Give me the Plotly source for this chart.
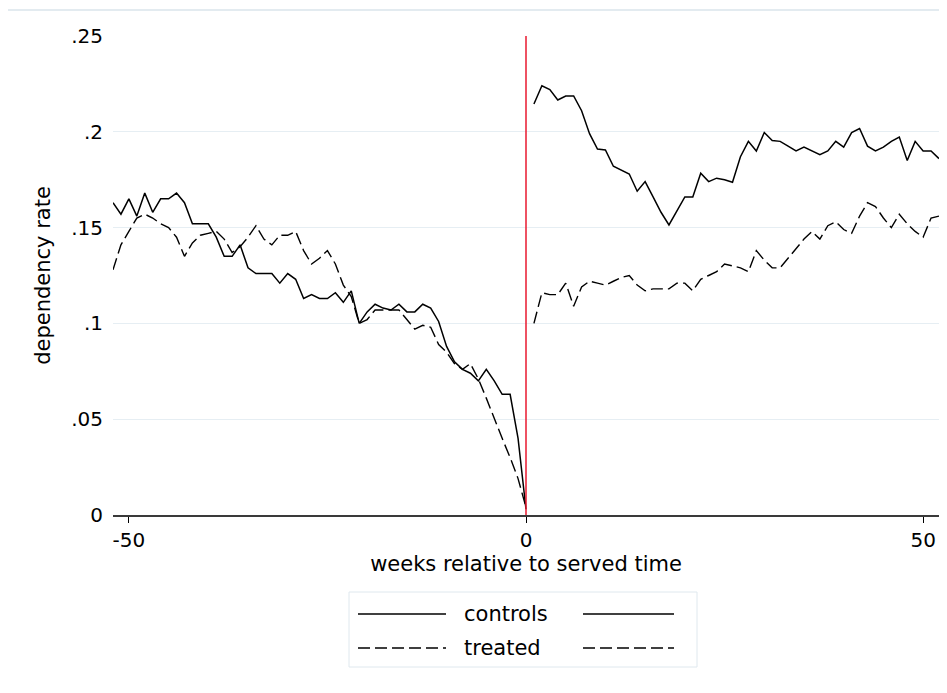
import plotly.graph_objects as go

# ---------------- data ----------------
weeks_pre = list(range(-52, 1))
weeks_post = list(range(1, 53))

controls_pre = [0.163, 0.157, 0.165, 0.156, 0.168, 0.158, 0.165, 0.165, 0.168, 0.163,
                0.152, 0.152, 0.152, 0.145, 0.135, 0.135, 0.141, 0.129, 0.126, 0.126,
                0.126, 0.121, 0.126, 0.123, 0.113, 0.115, 0.113, 0.113, 0.116, 0.111,
                0.117, 0.100, 0.106, 0.110, 0.108, 0.107, 0.110, 0.106, 0.106, 0.110,
                0.108, 0.101, 0.088, 0.080, 0.076, 0.074, 0.070, 0.076, 0.070, 0.063,
                0.063, 0.040, 0.003]
treated_pre = [0.128, 0.141, 0.148, 0.155, 0.157, 0.155, 0.152, 0.150, 0.145, 0.135,
               0.142, 0.146, 0.147, 0.148, 0.144, 0.137, 0.140, 0.145, 0.151, 0.144,
               0.141, 0.146, 0.146, 0.148, 0.138, 0.131, 0.134, 0.138, 0.131, 0.120,
               0.114, 0.100, 0.102, 0.107, 0.107, 0.107, 0.107, 0.102, 0.097, 0.099,
               0.098, 0.089, 0.085, 0.079, 0.076, 0.079, 0.071, 0.061, 0.050, 0.040,
               0.030, 0.019, 0.004]
controls_post = [0.2145, 0.224, 0.222, 0.2166, 0.2187, 0.2187, 0.211, 0.199, 0.191, 0.1905,
                 0.182, 0.180, 0.178, 0.169, 0.174, 0.166, 0.158, 0.1514, 0.159, 0.166,
                 0.166, 0.1784, 0.174, 0.1758, 0.175, 0.1737, 0.187, 0.195, 0.190, 0.1996,
                 0.1955, 0.195, 0.1925, 0.190, 0.192, 0.190, 0.188, 0.190, 0.195, 0.192,
                 0.1996, 0.2017, 0.1925, 0.190, 0.192, 0.195, 0.1973, 0.185, 0.195, 0.190,
                 0.190, 0.186]
treated_post = [0.100, 0.116, 0.115, 0.115, 0.121, 0.109, 0.119, 0.122, 0.121, 0.120,
                0.122, 0.124, 0.125, 0.120, 0.117, 0.118, 0.118, 0.118, 0.121, 0.121,
                0.117, 0.123, 0.125, 0.127, 0.131, 0.130, 0.129, 0.127, 0.138, 0.133,
                0.129, 0.129, 0.134, 0.139, 0.144, 0.148, 0.144, 0.151, 0.153, 0.149,
                0.147, 0.156, 0.163, 0.161, 0.155, 0.150, 0.157, 0.152, 0.148, 0.145,
                0.155, 0.156]

x_ticks = [-50, 0, 50]
y_ticks = [0, 0.05, 0.1, 0.15, 0.2, 0.25]
y_ticklabels = ["0", ".05", ".1", ".15", ".2", ".25"]
legend_labels = ["controls", "treated"]

# ---------------- figure ----------------
FONT = "DejaVu Sans"
OFF = 8  # page body margin
W, H = 931, 677
ML, MR, MT, MB = 105, 0, 28, 170
PW, PH = W - ML - MR, H - MT - MB

solid = dict(color="black", width=1.5)
dashed = dict(color="black", width=1.4, dash="12px,5px")

fig = go.Figure()
fig.add_trace(go.Scatter(x=weeks_pre, y=controls_pre, mode="lines", line=solid, showlegend=False))
fig.add_trace(go.Scatter(x=weeks_pre, y=treated_pre, mode="lines", line=dashed, showlegend=False))
fig.add_trace(go.Scatter(x=weeks_post, y=controls_post, mode="lines", line=solid, showlegend=False))
fig.add_trace(go.Scatter(x=weeks_post, y=treated_post, mode="lines", line=dashed, showlegend=False))

# vertical red line at week 0
fig.add_shape(type="line", xref="x", yref="y", x0=0, x1=0, y0=0, y1=0.25,
              line=dict(color="#e8192f", width=1.5), layer="above")


def px_x(p):
    return (p - OFF - ML) / PW


def px_y(p):
    return (H - MB - (p - OFF)) / PH


# faint top rule
fig.add_shape(type="line", xref="paper", yref="paper", x0=px_x(8), x1=px_x(939),
              y0=px_y(10), y1=px_y(10), line=dict(color="#e3ebf0", width=2))

# manual Stata-style legend
fig.add_shape(type="rect", xref="paper", yref="paper",
              x0=px_x(349), x1=px_x(697), y0=px_y(592), y1=px_y(667),
              line=dict(color="#dfe8ee", width=1), fillcolor="white")
rows = [614, 648]
styles = [solid, dashed]
for lab, ry, st in zip(legend_labels, rows, styles):
    for kx0, kx1 in [(358, 446), (583, 674)]:
        fig.add_shape(type="line", xref="paper", yref="paper",
                      x0=px_x(kx0), x1=px_x(kx1), y0=px_y(ry), y1=px_y(ry),
                      line=st)
    fig.add_annotation(xref="paper", yref="paper", x=px_x(462), y=px_y(ry),
                       text=lab, showarrow=False, xanchor="left", yanchor="middle",
                       font=dict(family=FONT, size=21, color="black"))

fig.update_layout(
    width=W, height=H,
    margin=dict(l=ML, r=MR, t=MT, b=MB, pad=0),
    paper_bgcolor="white", plot_bgcolor="white",
    font=dict(family=FONT, size=20, color="black"),
    showlegend=False,
)
fig.update_xaxes(
    range=[-52, 52], tickvals=x_ticks, ticktext=[str(v) for v in x_ticks],
    ticks="outside", ticklen=6, tickwidth=1.3, tickcolor="black",
    showgrid=False, zeroline=False,
    showline=True, linecolor="#3a3a3a", linewidth=2,
    tickfont=dict(family=FONT, size=20),
    title=dict(text="weeks relative to served time", font=dict(family=FONT, size=21), standoff=2),
)
fig.update_yaxes(
    range=[0, 0.25], tickvals=y_ticks, ticktext=y_ticklabels,
    ticks="", showgrid=True, gridcolor="#e6eef3", gridwidth=1.3,
    zeroline=False, showline=False,
    ticklabelstandoff=9,
    tickfont=dict(family=FONT, size=20),
    title=dict(text="dependency rate", font=dict(family=FONT, size=21), standoff=14),
)

fig.write_html("out.html")
